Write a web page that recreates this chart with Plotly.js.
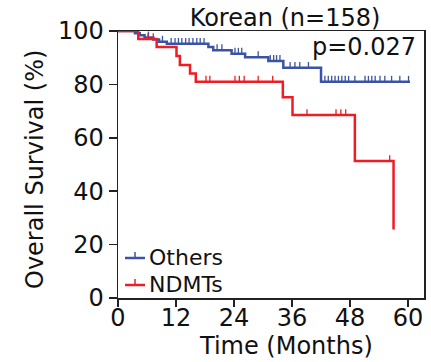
<!DOCTYPE html>
<html>
<head>
<meta charset="utf-8">
<script src="https://cdn.plot.ly/plotly-3.0.1.min.js"></script>
<style>html,body{margin:0;padding:0;background:#fff;}#chart{width:431px;height:362px;}</style>
</head>
<body>
<div id="chart"></div>
<script>
// ---- data ----
var xTicks = [0, 12, 24, 36, 48, 60];
var yTicks = [0, 20, 40, 60, 80, 100];
var seriesNames = ['Others', 'NDMTs'];

// Others (blue): event times and survival (%) after each event
var othersTimes = [0, 3.5, 4.5, 5.5, 7.3, 8.5, 10.1, 18.7, 19.7, 23.5, 26.3, 31.1, 34.2, 42.0];
var othersSurv  = [100, 99.2, 98.4, 97.6, 96.8, 96.0, 95.2, 94.0, 92.8, 91.5, 90.2, 88.8, 86.2, 81.0];
var othersLastFollowUp = 60.4;
var othersCensored = [2.8, 6.3, 9.2, 11.0, 11.8, 12.5, 13.2, 14.0, 14.7, 15.5, 16.3, 17.0, 17.8,
  20.5, 21.5, 24.2, 24.9, 25.6, 29.0, 31.5, 32.2, 32.8, 33.5, 35.6, 36.6, 37.6, 39.4,
  42.8, 43.5, 44.2, 44.9, 45.6, 46.3, 47.0, 47.7, 49.0, 51.1, 51.8, 52.5, 53.2, 54.2,
  55.2, 56.6, 58.3, 60.1];

// NDMTs (red)
var ndmtTimes = [0, 4.2, 8.0, 12.1, 12.8, 14.9, 16.1, 34.1, 36.1, 49.0, 57.0];
var ndmtSurv  = [100, 97.0, 94.0, 90.6, 87.3, 84.1, 81.0, 75.2, 68.5, 51.3, 25.7];
var ndmtCensored = [6.2, 7.3, 18.2, 19.0, 24.2, 25.1, 26.1, 29.0, 32.0, 39.1, 45.1, 46.1, 47.1, 56.2];

var titleText = "Korean (n=158)";
var pText = "p=0.027";

// ---- helpers ----
function survAt(times, surv, t) {
  var s = surv[0];
  for (var i = 0; i < times.length; i++) { if (times[i] <= t) s = surv[i]; }
  return s;
}
function censorSegments(times, surv, cens, h) {
  var xs = [], ys = [];
  cens.forEach(function (t) {
    var s = survAt(times, surv, t);
    xs.push(t, t, null); ys.push(s, s + h, null);
  });
  return {x: xs, y: ys};
}

var BLUE = '#3a53a4', RED = '#ee1d24';
var COLORS = [BLUE, RED];
var FONT = 'DejaVu Sans, Liberation Sans, Arial, sans-serif';
var TICK_H = 2.2;

var oX = othersTimes.concat([othersLastFollowUp]);
var oY = othersSurv.concat([othersSurv[othersSurv.length - 1]]);
var oC = censorSegments(othersTimes, othersSurv, othersCensored, TICK_H);
var nC = censorSegments(ndmtTimes, ndmtSurv, ndmtCensored, TICK_H);

var traces = [
  {x: oX, y: oY, mode: 'lines', line: {shape: 'hv', color: BLUE, width: 2.5}, name: seriesNames[0], showlegend: false},
  {x: oC.x, y: oC.y, mode: 'lines', line: {color: BLUE, width: 1.3}, showlegend: false, hoverinfo: 'skip'},
  {x: ndmtTimes, y: ndmtSurv, mode: 'lines', line: {shape: 'hv', color: RED, width: 2.5}, name: seriesNames[1], showlegend: false},
  {x: nC.x, y: nC.y, mode: 'lines', line: {color: RED, width: 1.3}, showlegend: false, hoverinfo: 'skip'}
];

var W = 306, H = 267;
function px(xp) { return (xp - 118) / W; }
function py(yp) { return (298 - yp) / H; }

// legend built from the series names/colours (⊥ symbol like the reference)
var legendRows = [256.5, 283.5];
var shapes = [], legendAnn = [];
seriesNames.forEach(function (nm, i) {
  var yc = legendRows[i] + 1.5;
  shapes.push({type: 'line', xref: 'paper', yref: 'paper', x0: px(125), x1: px(145), y0: py(yc), y1: py(yc),
               line: {color: COLORS[i], width: 2.5}});
  shapes.push({type: 'line', xref: 'paper', yref: 'paper', x0: px(135), x1: px(135), y0: py(yc), y1: py(yc - 6),
               line: {color: COLORS[i], width: 1.5}});
  legendAnn.push({text: nm, xref: 'paper', yref: 'paper', x: px(147), y: py(legendRows[i]), xanchor: 'left',
                  yanchor: 'middle', height: 22, showarrow: false, font: {family: FONT, size: 22, color: '#111'}});
});

var layout = {
  width: 431, height: 362,
  margin: {l: 118, r: 7, t: 31, b: 64},
  paper_bgcolor: '#fff', plot_bgcolor: '#fff',
  font: {family: FONT, size: 24, color: '#111'},
  showlegend: false,
  xaxis: {
    range: [0, 63.3], tickvals: xTicks, ticktext: xTicks.map(String),
    showgrid: false, zeroline: false, showline: true, mirror: true,
    linecolor: '#222', linewidth: 1.5, ticks: 'outside', ticklen: 7, tickwidth: 1.5, tickcolor: '#222',
    ticklabelstandoff: -9,
    tickfont: {family: FONT, size: 24, color: '#111'}, fixedrange: true
  },
  yaxis: {
    range: [0, 100], tickvals: yTicks, ticktext: yTicks.map(String),
    showgrid: false, zeroline: false, showline: true, mirror: true,
    linecolor: '#222', linewidth: 1.5, ticks: 'outside', ticklen: 8, tickwidth: 1.5, tickcolor: '#222',
    tickfont: {family: FONT, size: 24, color: '#111'}, fixedrange: true
  },
  title: {text: titleText, font: {family: FONT, size: 24, color: '#111'},
          x: 285 / 431, xanchor: 'center', xref: 'container', y: 1 - 18 / 362, yanchor: 'middle', yref: 'container'},
  shapes: shapes,
  annotations: [
    {text: pText, xref: 'paper', yref: 'paper', x: px(418), y: py(46.5), xanchor: 'right', yanchor: 'middle',
     showarrow: false, font: {family: FONT, size: 24, color: '#111'}},
    {text: 'Time (Months)', xref: 'paper', yref: 'paper', x: px(285.5), y: py(346), xanchor: 'center', yanchor: 'middle',
     showarrow: false, font: {family: FONT, size: 24, color: '#111'}},
    {text: 'Overall Survival (%)', xref: 'paper', yref: 'paper', x: px(35), y: py(170), xanchor: 'center', yanchor: 'middle',
     textangle: -90, showarrow: false, font: {family: FONT, size: 24, color: '#111'}}
  ].concat(legendAnn)
};

Plotly.newPlot('chart', traces, layout, {displayModeBar: false, staticPlot: true});
</script>
</body>
</html>
